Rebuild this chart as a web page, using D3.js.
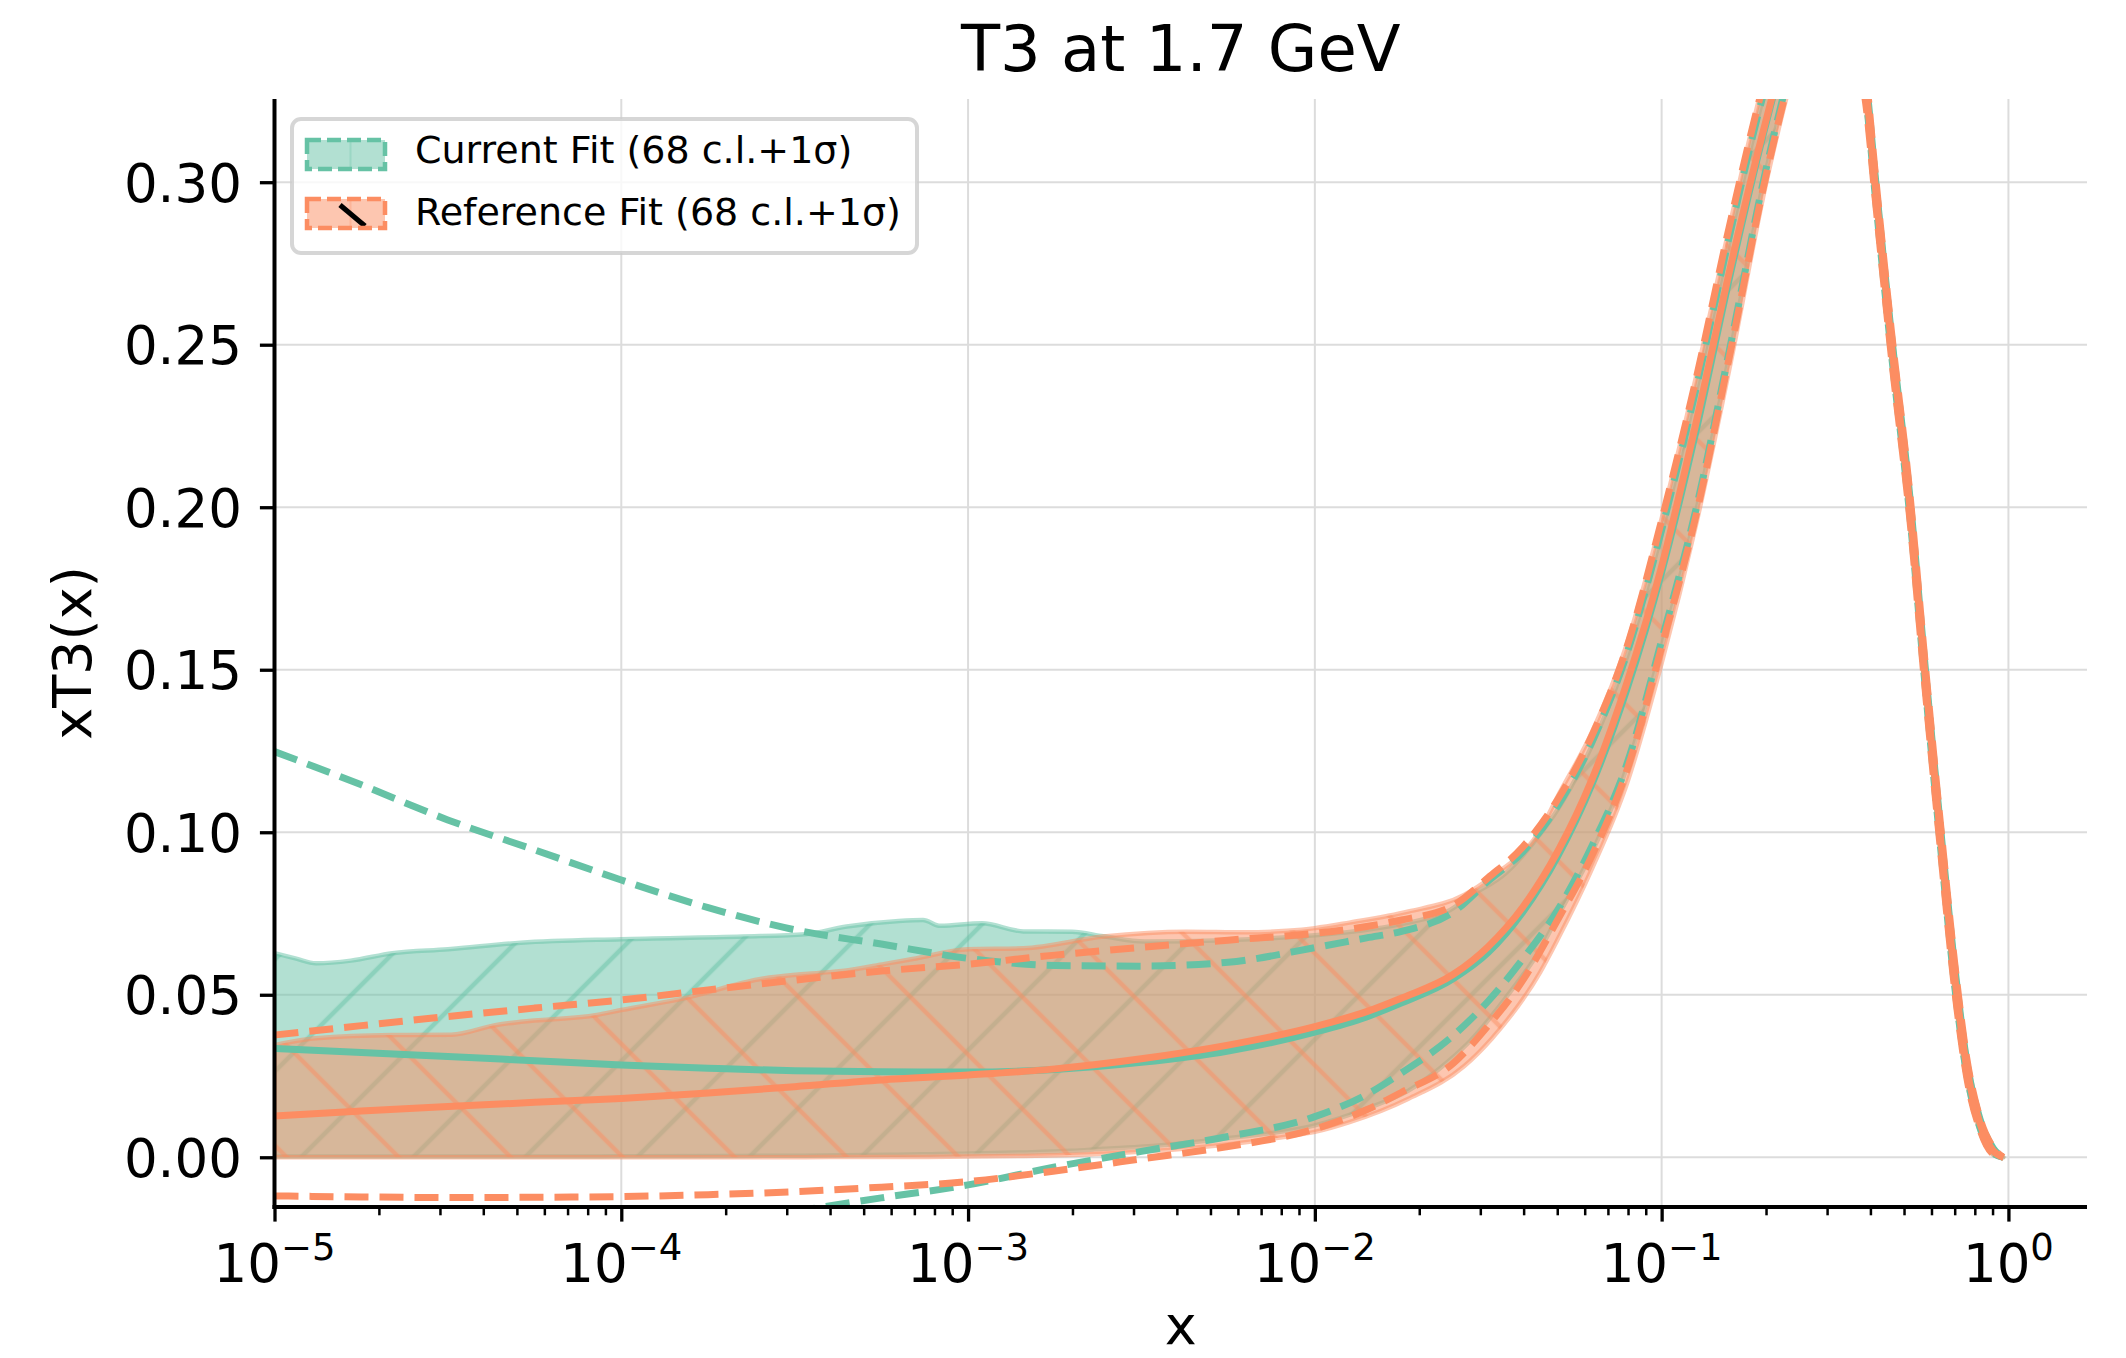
<!DOCTYPE html>
<html><head><meta charset="utf-8">
<script src="https://cdn.jsdelivr.net/npm/d3@7"></script>
<style>
html,body{margin:0;padding:0;background:#fff;}
svg{display:block;font-family:"DejaVu Sans",sans-serif;}
</style></head><body>
<svg id="chart" width="2126" height="1358"></svg>
<script>
// ---------------- DATA ----------------
const chartTitle = "T3 at 1.7 GeV";
const xLabel = "x";
const yLabel = "xT3(x)";
const legendLabels = ["Current Fit (68 c.l.+1\u03c3)", "Reference Fit (68 c.l.+1\u03c3)"];
const xTickExponents = [-5, -4, -3, -2, -1, 0];
const yTickValues = [0.00, 0.05, 0.10, 0.15, 0.20, 0.25, 0.30];

// shared x grid for central values and 1-sigma lines
const xGrid = [1e-5, 1.78e-5, 3.16e-5, 5.62e-5, 1e-4, 1.78e-4, 3.16e-4, 5.62e-4, 1e-3, 1.78e-3,
  3.16e-3, 5.62e-3, 1e-2, 1.41e-2, 1.78e-2, 2.51e-2, 3.16e-2, 3.98e-2, 5.01e-2, 6.31e-2,
  7.94e-2, 0.1, 0.126, 0.158, 0.2, 0.251, 0.282, 0.316, 0.355, 0.389,
  0.412, 0.46, 0.52, 0.573, 0.635, 0.71, 0.757, 0.828, 0.904, 0.966];

const currentCentral = [0.0335,0.0322,0.0310,0.0297,0.0284,0.0274,0.0266,0.0263,0.0262,0.0270,
  0.0292,0.0327,0.0385,0.0432,0.0475,0.0550,0.0630,0.0755,0.0925,0.1150,
  0.1440,0.1800,0.2240,0.2720,0.3180,0.3550,0.3650,0.3620,0.3480,0.3280,
  0.3000,0.2500,0.2000,0.1500,0.1000,0.0500,0.0280,0.0104,0.0020,0.0000];
const currentUpper1s = [0.1248,0.1146,0.1038,0.0946,0.0853,0.0768,0.0700,0.0656,0.0612,0.0590,
  0.0588,0.0600,0.0645,0.0675,0.0695,0.0755,0.0850,0.0940,0.1080,0.1280,
  0.1550,0.1930,0.2370,0.2850,0.3300,0.3620,0.3700,0.3670,0.3520,0.3310,
  0.3030,0.2530,0.2030,0.1530,0.1030,0.0530,0.0300,0.0118,0.0028,0.0000];
const currentLower1s = [-0.0450,-0.0400,-0.0350,-0.0310,-0.0270,-0.0225,-0.0168,-0.0125,-0.0085,-0.0030,
  0.0018,0.0064,0.0125,0.0193,0.0260,0.0375,0.0480,0.0610,0.0760,0.0960,
  0.1210,0.1590,0.2000,0.2500,0.3040,0.3450,0.3590,0.3570,0.3440,0.3250,
  0.2970,0.2470,0.1970,0.1470,0.0970,0.0470,0.0260,0.0090,0.0012,0.0000];

const referenceCentral = [0.0127,0.0142,0.0156,0.0169,0.0181,0.0198,0.0217,0.0238,0.0253,0.0272,
  0.0303,0.0345,0.0402,0.0448,0.0490,0.0563,0.0648,0.0770,0.0940,0.1165,
  0.1460,0.1818,0.2265,0.2740,0.3190,0.3560,0.3660,0.3630,0.3490,0.3280,
  0.3000,0.2500,0.2000,0.1500,0.1000,0.0500,0.0280,0.0104,0.0020,0.0000];
const referenceUpper1s = [0.0376,0.0405,0.0433,0.0459,0.0484,0.0515,0.0545,0.0573,0.0594,0.0622,
  0.0646,0.0668,0.0689,0.0710,0.0730,0.0775,0.0860,0.0955,0.1100,0.1300,
  0.1570,0.1960,0.2400,0.2880,0.3330,0.3660,0.3720,0.3690,0.3540,0.3320,
  0.3040,0.2540,0.2040,0.1540,0.1040,0.0540,0.0310,0.0120,0.0030,0.0000];
const referenceLower1s = [-0.0119,-0.0122,-0.0124,-0.0123,-0.0121,-0.0115,-0.0106,-0.0092,-0.0075,-0.0042,
  -0.0005,0.0033,0.0087,0.0146,0.0200,0.0290,0.0405,0.0545,0.0730,0.0930,
  0.1190,0.1570,0.1980,0.2480,0.3020,0.3430,0.3570,0.3550,0.3420,0.3230,
  0.2960,0.2460,0.1960,0.1460,0.0960,0.0460,0.0250,0.0085,0.0010,0.0000];

// 68 c.l. bands: [x, lower, upper]
const currentBand68 = [
  [1.000e-5,0.0002,0.0628],[1.148e-5,0.0002,0.0612],[1.318e-5,0.0002,0.0597],[1.660e-5,0.0002,0.0605],
  [2.188e-5,0.0002,0.0628],[3.162e-5,0.0002,0.0640],[5.129e-5,0.0002,0.0660],[1.000e-4,0.0003,0.0671],
  [2.239e-4,0.0004,0.0679],[3.388e-4,0.0005,0.0686],[4.467e-4,0.0006,0.0710],[6.310e-4,0.0008,0.0727],
  [7.413e-4,0.0009,0.0730],[8.318e-4,0.0010,0.0712],[1.096e-3,0.0012,0.0720],[1.445e-3,0.0015,0.0695],
  [1.995e-3,0.0020,0.0694],[2.455e-3,0.0026,0.0680],[3.236e-3,0.0033,0.0664],[5.495e-3,0.0058,0.0668],
  [1.000e-2,0.0098,0.0683],[1.413e-2,0.0150,0.0700],[1.862e-2,0.0205,0.0722],[2.455e-2,0.0300,0.0761],
  [2.818e-2,0.0360,0.0805],[3.548e-2,0.0490,0.0874],[4.467e-2,0.0640,0.0995],[5.012e-2,0.0740,0.1070],
  [6.310e-2,0.0940,0.1270],[7.943e-2,0.1200,0.1540],[0.1000,0.1570,0.1920],[0.1259,0.1990,0.2360],
  [0.1585,0.2490,0.2840],[0.1995,0.3030,0.3290],[0.2512,0.3440,0.3620],[0.2818,0.3580,0.3690],
  [0.3162,0.3560,0.3660],[0.3548,0.3430,0.3510],[0.3890,0.3240,0.3300],[0.4121,0.2960,0.3020],
  [0.4603,0.2460,0.2520],[0.5200,0.1960,0.2020],[0.5728,0.1460,0.1520],[0.6353,0.0960,0.1020],
  [0.7096,0.0460,0.0520],[0.7568,0.0250,0.0295],[0.8279,0.0085,0.0112],[0.9036,0.0010,0.0025],
  [0.9661,0.0000,0.0000]];
const referenceBand68 = [
  [1.000e-5,0.0000,0.0345],[1.318e-5,0.0000,0.0366],[2.188e-5,0.0000,0.0376],[3.236e-5,0.0000,0.0377],
  [4.365e-5,0.0000,0.0407],[5.129e-5,0.0000,0.0417],[8.511e-5,0.0000,0.0438],[1.000e-4,0.0000,0.0453],
  [1.514e-4,0.0000,0.0489],[2.570e-4,0.0000,0.0550],[3.388e-4,0.0000,0.0564],[4.467e-4,0.0001,0.0575],
  [5.754e-4,0.0001,0.0595],[6.918e-4,0.0001,0.0610],[1.000e-3,0.0002,0.0640],[1.445e-3,0.0004,0.0643],
  [2.455e-3,0.0011,0.0679],[4.266e-3,0.0027,0.0694],[6.310e-3,0.0046,0.0692],[8.318e-3,0.0064,0.0697],
  [1.000e-2,0.0078,0.0705],[1.259e-2,0.0108,0.0722],[1.862e-2,0.0180,0.0756],[2.692e-2,0.0280,0.0807],
  [3.236e-2,0.0365,0.0863],[4.467e-2,0.0570,0.1007],[5.012e-2,0.0670,0.1110],[6.310e-2,0.0890,0.1310],
  [7.943e-2,0.1150,0.1580],[0.1000,0.1520,0.1965],[0.1259,0.1950,0.2405],[0.1585,0.2450,0.2885],
  [0.1995,0.2990,0.3335],[0.2512,0.3410,0.3665],[0.2818,0.3550,0.3730],[0.3162,0.3530,0.3700],
  [0.3548,0.3400,0.3550],[0.3890,0.3220,0.3330],[0.4121,0.2950,0.3050],[0.4603,0.2450,0.2550],
  [0.5200,0.1950,0.2050],[0.5728,0.1450,0.1550],[0.6353,0.0950,0.1050],[0.7096,0.0450,0.0550],
  [0.7568,0.0240,0.0320],[0.8279,0.0080,0.0125],[0.9036,0.0008,0.0030],[0.9661,0.0000,0.0000]];

// ---------------- DRAWING ----------------
const TEAL = "#66c2a5", ORANGE = "#fc8d62";
const M = {left: 274.5, right: 2087, top: 99, bottom: 1207};
const svg = d3.select("#chart");
const x = d3.scaleLog().domain([1e-5, 1.685]).range([M.left, M.right]);
const y = d3.scaleLinear().domain([-0.0153, 0.3256]).range([M.bottom, M.top]);

const defs = svg.append("defs");
defs.append("clipPath").attr("id", "plotClip").append("rect")
  .attr("x", M.left).attr("y", M.top).attr("width", M.right - M.left).attr("height", M.bottom - M.top);

function hatch(id, color, angle, offset) {
  const p = 112 / Math.SQRT2;
  const pat = defs.append("pattern").attr("id", id).attr("patternUnits", "userSpaceOnUse")
    .attr("width", p).attr("height", p).attr("x", offset / Math.SQRT2 - p / 2).attr("y", 0)
    .attr("patternTransform", `rotate(${angle})`);
  pat.append("line").attr("x1", p / 2).attr("x2", p / 2).attr("y1", -2).attr("y2", p + 2)
    .attr("stroke", color).attr("stroke-opacity", 0.5).attr("stroke-width", 4.6);
}
hatch("hatchCur", TEAL, 45, 2.3);
hatch("hatchRef", ORANGE, -45, 25.5);

// grid
const xMajor = xTickExponents.map(e => Math.pow(10, e));
const grid = svg.append("g");
grid.selectAll("line.gx").data(xMajor).join("line").attr("class", "gx")
  .attr("x1", d => x(d)).attr("x2", d => x(d)).attr("y1", M.top).attr("y2", M.bottom)
  .attr("stroke", "#dcdcdc").attr("stroke-width", 2);
grid.selectAll("line.gy").data(yTickValues).join("line").attr("class", "gy")
  .attr("x1", M.left).attr("x2", M.right).attr("y1", d => y(d)).attr("y2", d => y(d))
  .attr("stroke", "#dcdcdc").attr("stroke-width", 2);

const plot = svg.append("g").attr("clip-path", "url(#plotClip)");
const area = d3.area().x(d => x(d[0])).y0(d => y(d[1])).y1(d => y(d[2])).curve(d3.curveMonotoneX);

function band(data, color, hatchId) {
  const g = plot.append("g");
  const dPath = area(data);
  g.append("path").attr("d", dPath).attr("fill", color).attr("fill-opacity", 0.5);
  g.append("path").attr("d", dPath).attr("fill", `url(#${hatchId})`);
  g.append("path").attr("d", dPath).attr("fill", "none").attr("stroke", color)
    .attr("stroke-opacity", 0.5).attr("stroke-width", 4.5).attr("stroke-linejoin", "round");
}
band(currentBand68, TEAL, "hatchCur");
band(referenceBand68, ORANGE, "hatchRef");

const lineGen = d3.line().x((d, i) => x(xGrid[i])).y(d => y(d)).curve(d3.curveMonotoneX);
function curve(vals, color, dashed) {
  plot.append("path").attr("d", lineGen(vals)).attr("fill", "none").attr("stroke", color)
    .attr("stroke-width", 7).attr("stroke-dasharray", dashed ? "24,11" : null);
}
curve(currentCentral, TEAL, false);
curve(currentUpper1s, TEAL, true);
curve(currentLower1s, TEAL, true);
curve(referenceCentral, ORANGE, false);
curve(referenceUpper1s, ORANGE, true);
curve(referenceLower1s, ORANGE, true);

// axes ticks
const xMinor = [];
xTickExponents.slice(0, -1).forEach(e => { for (let m = 2; m <= 9; m++) xMinor.push(m * Math.pow(10, e)); });
const gxMaj = svg.append("g").attr("transform", `translate(0,${M.bottom})`)
  .call(d3.axisBottom(x).tickValues(xMajor).tickSize(14.6).tickSizeOuter(0).tickFormat(() => ""));
gxMaj.select(".domain").remove();
gxMaj.selectAll(".tick line").attr("stroke", "#000").attr("stroke-width", 3.3);
const gxMin = svg.append("g").attr("transform", `translate(0,${M.bottom})`)
  .call(d3.axisBottom(x).tickValues(xMinor).tickSize(8.3).tickSizeOuter(0).tickFormat(() => ""));
gxMin.select(".domain").remove();
gxMin.selectAll(".tick line").attr("stroke", "#000").attr("stroke-width", 2.5);

const gy = svg.append("g").attr("transform", `translate(${M.left},0)`)
  .call(d3.axisLeft(y).tickValues(yTickValues).tickSize(14.6).tickPadding(18).tickSizeOuter(0)
    .tickFormat(d3.format(".2f")));
gy.select(".domain").remove();
gy.selectAll(".tick line").attr("stroke", "#000").attr("stroke-width", 3.3);
gy.selectAll(".tick text").attr("font-size", 53).attr("font-family", "DejaVu Sans")
  .attr("fill", "#000").attr("dy", "0.36em");

// x tick labels with superscripts
const gxl = svg.append("g").attr("font-size", 53).attr("fill", "#000");
xTickExponents.forEach(e => {
  const t = gxl.append("text").attr("x", x(Math.pow(10, e))).attr("y", 1282).attr("text-anchor", "middle");
  t.append("tspan").text("10");
  t.append("tspan").attr("dy", -22).attr("font-size", 37).text(e < 0 ? "\u2212" + (-e) : String(e));
});

// spines
svg.append("line").attr("x1", M.left).attr("x2", M.left).attr("y1", M.top).attr("y2", M.bottom + 2)
  .attr("stroke", "#000").attr("stroke-width", 4);
svg.append("line").attr("x1", M.left - 2).attr("x2", M.right).attr("y1", M.bottom).attr("y2", M.bottom)
  .attr("stroke", "#000").attr("stroke-width", 4);

// labels
svg.append("text").attr("x", (M.left + M.right) / 2).attr("y", 71).attr("text-anchor", "middle")
  .attr("font-size", 64).attr("fill", "#000").text(chartTitle);
svg.append("text").attr("x", (M.left + M.right) / 2).attr("y", 1344).attr("text-anchor", "middle")
  .attr("font-size", 54).attr("fill", "#000").text(xLabel);
svg.append("text").attr("transform", `translate(91,${(M.top + M.bottom) / 2}) rotate(-90)`)
  .attr("text-anchor", "middle").attr("font-size", 54).attr("fill", "#000").text(yLabel);

// legend
const lg = svg.append("g");
lg.append("rect").attr("x", 292).attr("y", 119).attr("width", 625).attr("height", 134).attr("rx", 9)
  .attr("fill", "#fff").attr("fill-opacity", 0.8).attr("stroke", "#cccccc").attr("stroke-opacity", 0.8)
  .attr("stroke-width", 4);
const entries = [{label: legendLabels[0], color: TEAL, py: 140, ty: 163},
                 {label: legendLabels[1], color: ORANGE, py: 199, ty: 225}];
entries.forEach((en, i) => {
  lg.append("rect").attr("x", 307).attr("y", en.py).attr("width", 78).attr("height", 29)
    .attr("fill", en.color).attr("fill-opacity", 0.5);
  lg.append("line").attr("x1", 350.5).attr("x2", 350.5).attr("y1", en.py).attr("y2", en.py + 29)
    .attr("stroke", en.color).attr("stroke-opacity", 0.3).attr("stroke-width", 2);
  if (i === 1) {
    lg.append("line").attr("x1", 340).attr("y1", 205).attr("x2", 365).attr("y2", 226)
      .attr("stroke", "#000").attr("stroke-width", 5);
  }
  lg.append("rect").attr("x", 307).attr("y", en.py).attr("width", 78).attr("height", 29)
    .attr("fill", "none").attr("stroke", en.color).attr("stroke-width", 4.5).attr("stroke-dasharray", "14,6");
  lg.append("text").attr("x", 415).attr("y", en.ty).attr("font-size", 38).attr("fill", "#000").text(en.label);
});
</script>
</body></html>
